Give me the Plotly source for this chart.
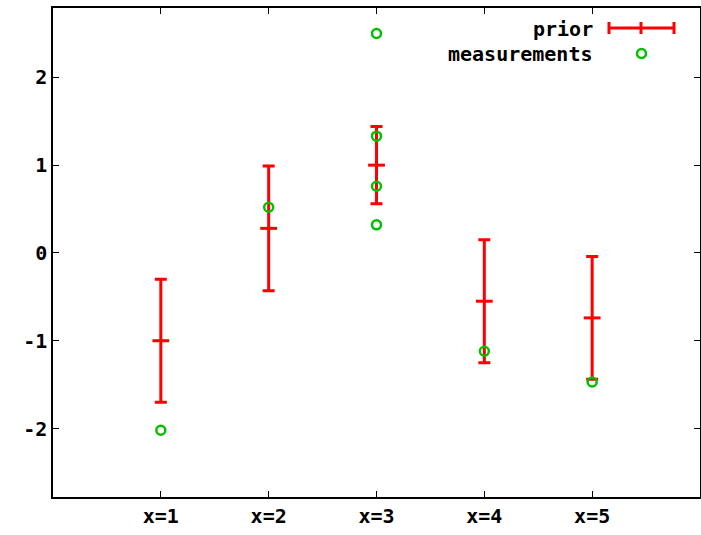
import plotly.graph_objects as go

# data
categories = ["x=1", "x=2", "x=3", "x=4", "x=5"]
prior_x = [1, 2, 3, 4, 5]
prior_mean = [-1.0, 0.28, 1.0, -0.55, -0.74]
prior_err = [0.70, 0.71, 0.44, 0.70, 0.70]
meas_x = [1, 2, 3, 3, 3, 3, 4, 5]
meas_y = [-2.02, 0.52, 2.50, 1.33, 0.76, 0.32, -1.12, -1.47]

RED = "#ff0000"
GREEN = "#00c000"
FONT = dict(family="DejaVu Sans Mono", size=20, color="black", weight="bold")

fig = go.Figure()
fig.add_trace(go.Scatter(
    x=prior_x, y=prior_mean, mode="markers", name="prior",
    marker=dict(symbol="line-ew", size=12, line=dict(color=RED, width=3), color=RED),
    error_y=dict(type="data", array=prior_err, visible=True, color=RED, thickness=3, width=6),
    showlegend=False,
))
fig.add_trace(go.Scatter(
    x=meas_x, y=meas_y, mode="markers", name="measurements",
    marker=dict(symbol="circle-open", size=9, color=GREEN, line=dict(color=GREEN, width=2.5)),
    showlegend=False,
))

# manual gnuplot-style legend (text right, sample on the right)
L, R, T, B = 53, 700, 8, 497
def px(x):
    return (x - L) / (R - L)
def py(y):
    return (B - y) / (B - T)

fig.add_annotation(x=px(595), y=py(29), xref="paper", yref="paper", text="prior",
                   showarrow=False, xanchor="right", yanchor="middle", font=FONT)
fig.add_annotation(x=px(595), y=py(54), xref="paper", yref="paper", text="measurements",
                   showarrow=False, xanchor="right", yanchor="middle", font=FONT)
ln = dict(color=RED, width=3)
fig.add_shape(type="line", xref="paper", yref="paper", x0=px(609), x1=px(674), y0=py(28), y1=py(28), line=ln)
for xx in (609, 641, 674):
    fig.add_shape(type="line", xref="paper", yref="paper", x0=px(xx), x1=px(xx), y0=py(22), y1=py(34), line=ln)
fig.add_shape(type="circle", xref="paper", yref="paper", x0=px(637), x1=px(646), y0=py(49), y1=py(58),
              line=dict(color=GREEN, width=2.5))

axis_common = dict(showgrid=False, zeroline=False, showline=True, linecolor="black", linewidth=1.5,
                   mirror="allticks", ticks="inside", ticklen=6, tickcolor="black", tickwidth=1,
                   tickfont=FONT, automargin=False)
fig.update_xaxes(range=[0, 6], tickmode="array", tickvals=prior_x, ticktext=categories, **axis_common)
fig.update_yaxes(range=[-2.78, 2.79], tickmode="array", tickvals=[-2, -1, 0, 1, 2],
                 ticktext=["-2", "-1", "0", "1", "2"], **axis_common)

fig.update_layout(width=701, height=535, paper_bgcolor="white", plot_bgcolor="white",
                  margin=dict(l=L, r=701 - R, t=T, b=535 - B), showlegend=False)
fig.write_html("out.html", config={"responsive": False, "displayModeBar": False},
               post_script="document.body.style.margin='0';document.body.style.overflow='hidden';")
